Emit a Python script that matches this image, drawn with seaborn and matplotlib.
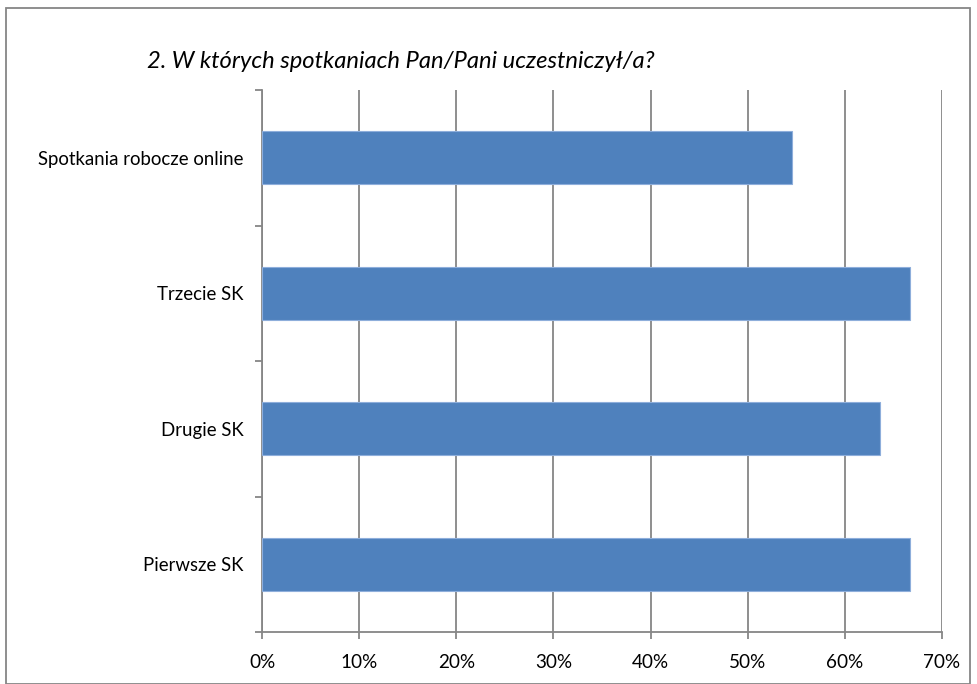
import pandas as pd
import seaborn as sns
import matplotlib.pyplot as plt
from matplotlib.patches import Rectangle
from matplotlib.ticker import FuncFormatter, FixedLocator

# Data (share of respondents, 33 people)
categories = ['Spotkania robocze online', 'Trzecie SK', 'Drugie SK', 'Pierwsze SK']
shares = [0.5455, 0.6667, 0.6364, 0.6667]
x_ticks = [0.0, 0.1, 0.2, 0.3, 0.4, 0.5, 0.6, 0.7]
title = '2. W których spotkaniach Pan/Pani uczestniczył/a?'

df = pd.DataFrame({'category': categories, 'share': shares})

sns.set_theme(style='white')
plt.rcParams['font.family'] = ['Lato', 'DejaVu Sans']

grey = '#868686'
fig = plt.figure(figsize=(9.77, 6.84), dpi=100)
ax = fig.add_axes([262 / 977, 1 - 632 / 684, 680 / 977, 542 / 684])

sns.barplot(data=df, x='share', y='category', order=categories, color='#4F81BD',
            saturation=1, width=0.39, edgecolor='#8EAEDB', linewidth=0.8, ax=ax, zorder=3)

ax.set_xlim(0, 0.7)
ax.set_ylim(3.5, -0.5)
ax.set_xticks(x_ticks)
ax.xaxis.set_major_formatter(FuncFormatter(lambda v, p: f'{v * 100:.0f}%'))
ax.grid(axis='x', color=grey, linewidth=1.3, zorder=0)
ax.grid(axis='y', visible=False)

# category labels without ticks; ticks at category boundaries
ax.tick_params(axis='y', which='major', length=0, pad=13, labelsize=13.4, labelcolor='black')
ax.yaxis.set_minor_locator(FixedLocator([-0.5, 0.5, 1.5, 2.5, 3.5]))
ax.tick_params(axis='y', which='minor', left=True, length=5, width=1.3, color=grey, direction='out')
ax.tick_params(axis='x', bottom=True, length=5, width=1.3, color=grey, direction='out',
               pad=11, labelsize=13.6, labelcolor='black')

for side in ['top', 'right']:
    ax.spines[side].set_visible(False)
for side in ['left', 'bottom']:
    ax.spines[side].set_color(grey)
    ax.spines[side].set_linewidth(1.3)

ax.set_xlabel('')
ax.set_ylabel('')

fig.text(147 / 977, 1 - 62 / 684, title, ha='left', va='center', style='italic',
         fontsize=17.1, color='black')

# outer chart border
fig.patches.append(Rectangle((6 / 977, 0), 964 / 977, 1 - 8 / 684, transform=fig.transFigure,
                             fill=False, edgecolor=grey, linewidth=1.3))

fig.savefig('out.png', dpi=100)
